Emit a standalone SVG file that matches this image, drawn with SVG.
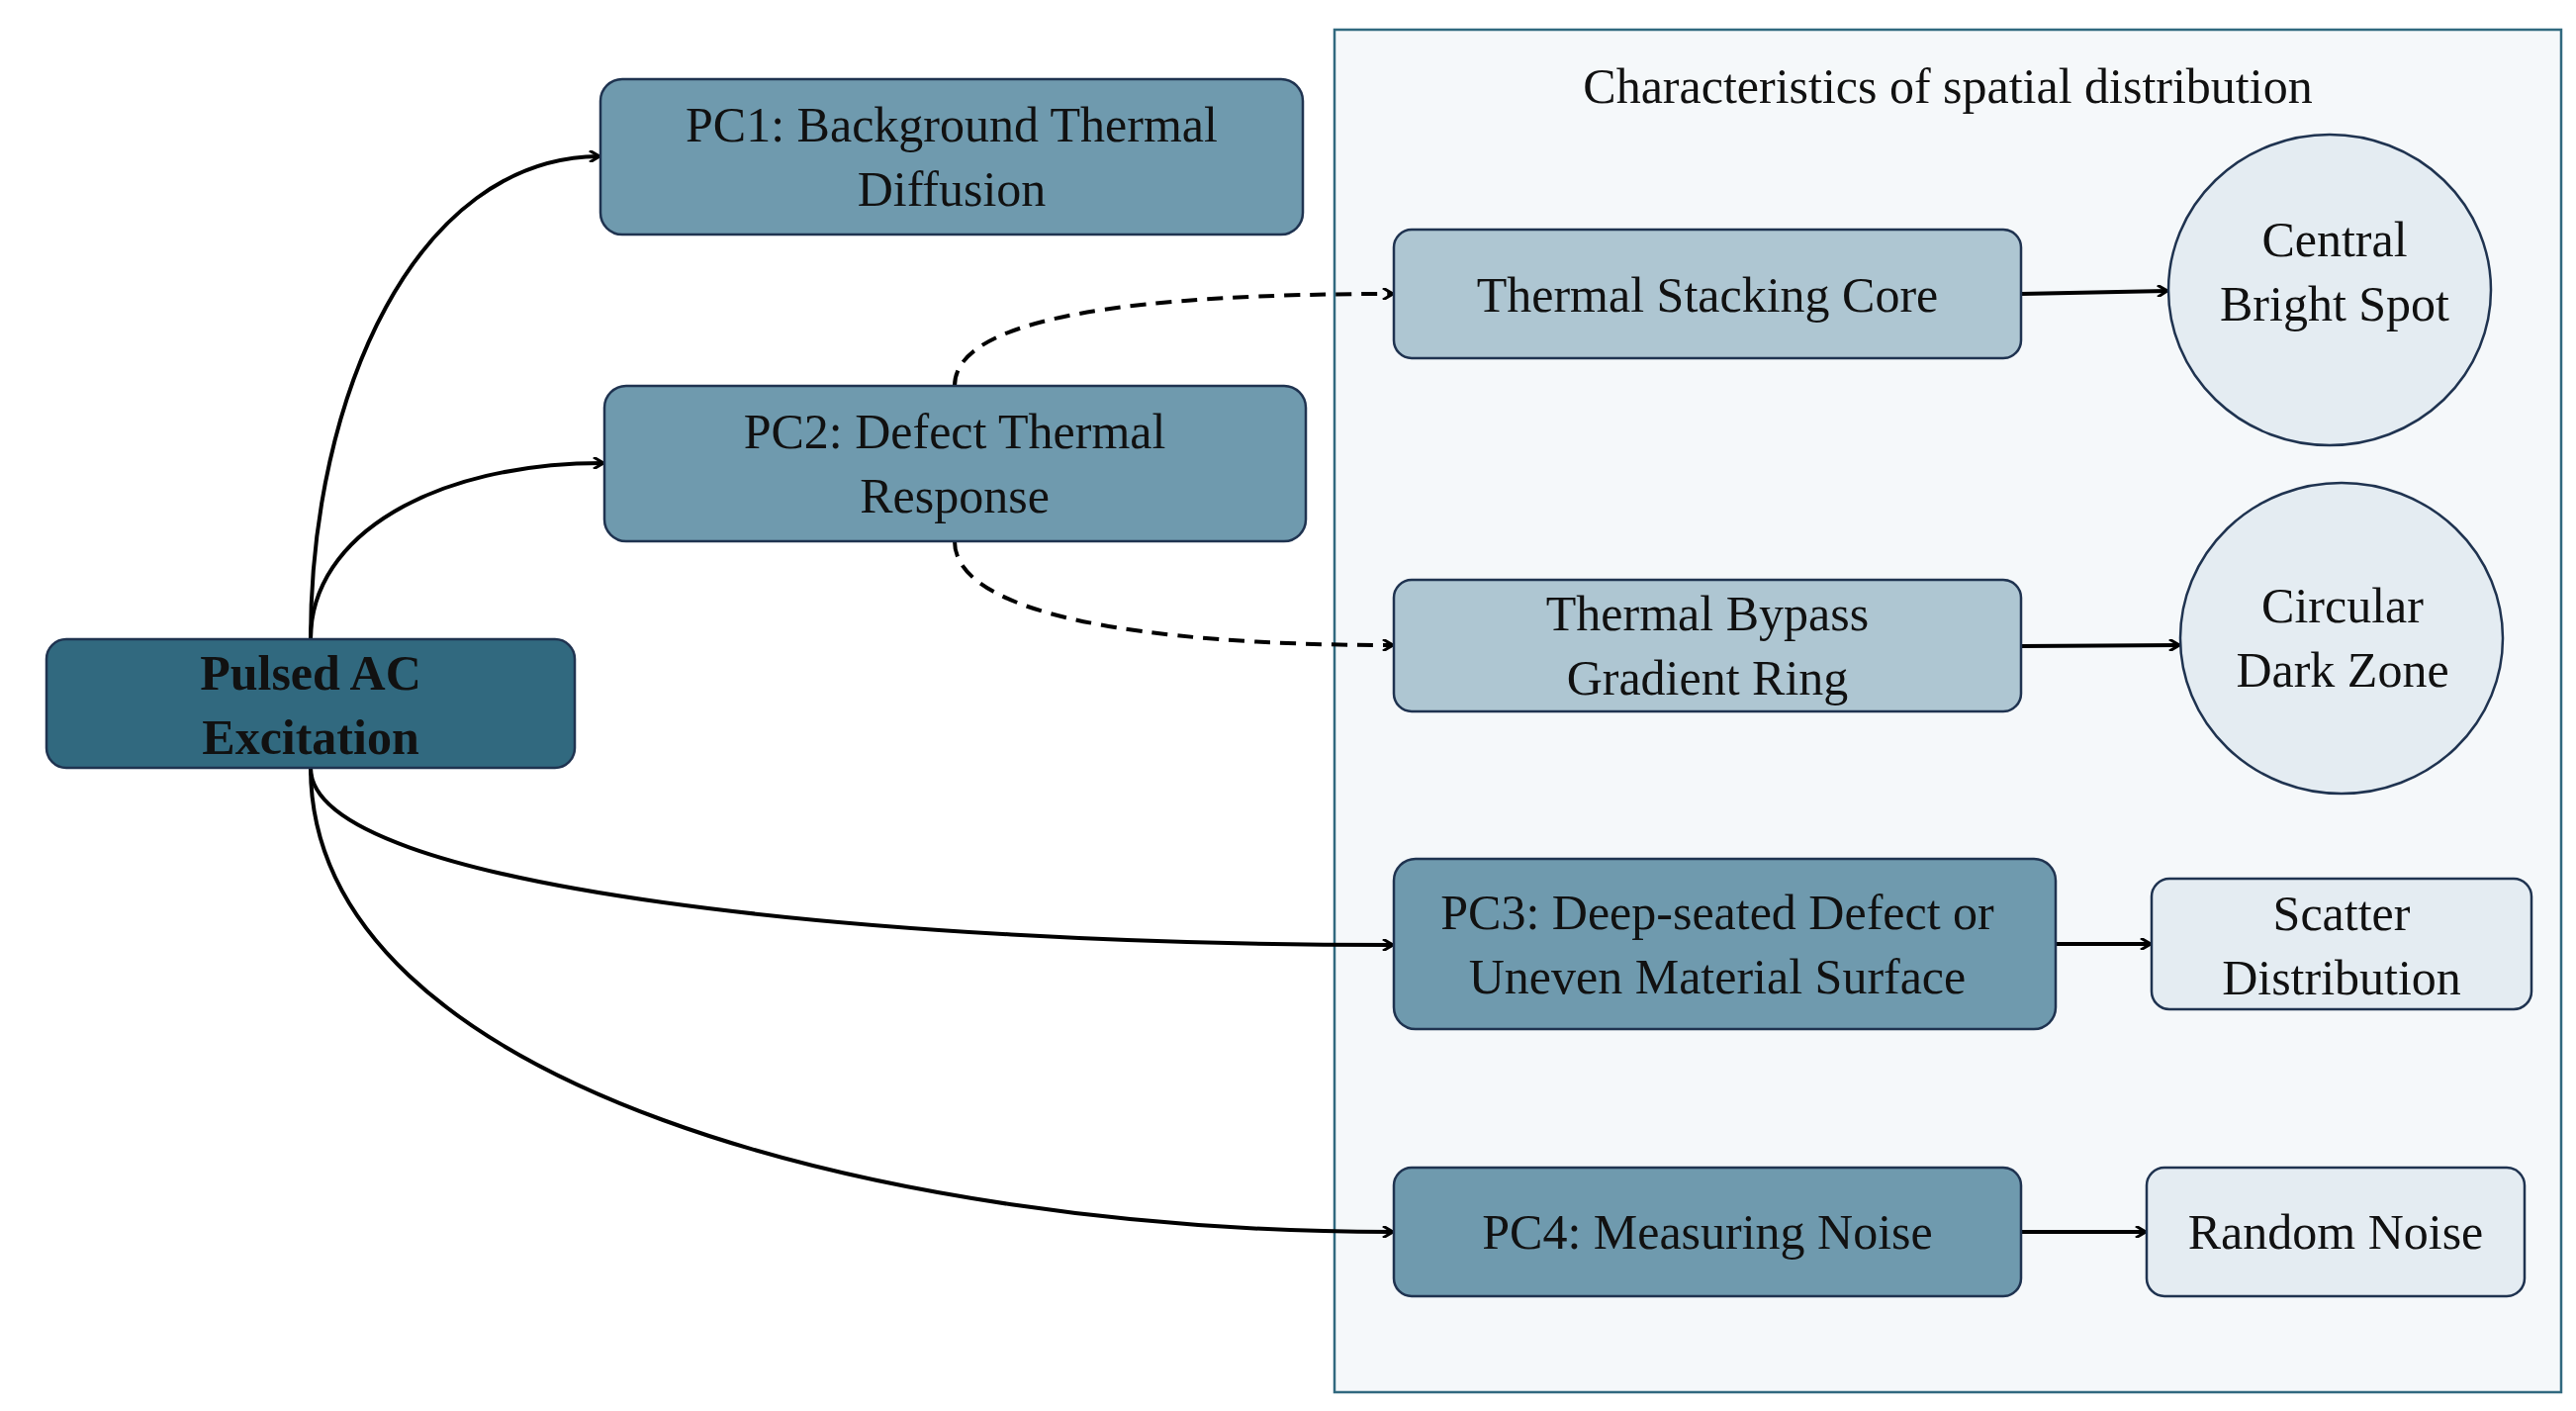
<svg xmlns="http://www.w3.org/2000/svg" width="2604" height="1426" viewBox="0 0 2604 1426">
<style>
text{font-family:"Liberation Serif","Times New Roman",serif;font-size:50px;fill:#111;text-anchor:middle}
.b{stroke:#1f3350;stroke-width:2.5}
.dark{fill:#31697f}.mid{fill:#6f9aae}.lt{fill:#aec6d2}.xl{fill:#e4ecf2}
.c{fill:none;stroke:#000;stroke-width:4;marker-end:url(#a)}
.d{stroke-dasharray:16 10}
</style>
<defs><marker id="a" markerWidth="12" markerHeight="12" refX="10" refY="6" orient="auto" markerUnits="userSpaceOnUse"><path d="M1,0 L11,6 L1,12" fill="none" stroke="#000" stroke-width="3"/></marker></defs>
<rect width="2604" height="1426" fill="#fff"/>
<g id="container"><rect x="1349" y="30" width="1240" height="1377" fill="#f5f8fa" stroke="#31697f" stroke-width="2.5"/><text x="1969" y="104" font-size="54">Characteristics of spatial distribution</text></g>
<g id="connectors">
<path class="c" d="M314,646 C314,400 420,160 605,158"/>
<path class="c" d="M314,646 C314,540 440,468 609,468"/>
<path class="c" d="M314,776 C314,900 900,955 1407,955"/>
<path class="c" d="M314,776 C314,1100 900,1245 1407,1245"/>
<path class="c d" d="M965,390 C965,320 1150,297 1407,297"/>
<path class="c d" d="M965,547 C965,620 1150,652 1407,652"/>
<path class="c" d="M2043,297 L2190,294"/>
<path class="c" d="M2043,653 L2202,652"/>
<path class="c" d="M2078,954 L2173,954"/>
<path class="c" d="M2043,1245 L2168,1245"/>
</g>
<g id="pulsed"><rect class="b dark" x="47" y="646" width="534" height="130" rx="20"/><text x="314" y="697" font-weight="bold">Pulsed AC</text><text x="314" y="762" font-weight="bold">Excitation</text></g>
<g id="pc1"><rect class="b mid" x="607" y="80" width="710" height="157" rx="22"/><text x="962" y="143">PC1: Background Thermal</text><text x="962" y="208">Diffusion</text></g>
<g id="pc2"><rect class="b mid" x="611" y="390" width="709" height="157" rx="22"/><text x="965" y="453">PC2: Defect Thermal</text><text x="965" y="518">Response</text></g>
<g id="tsc"><rect class="b lt" x="1409" y="232" width="634" height="130" rx="18"/><text x="1726" y="315">Thermal Stacking Core</text></g>
<g id="cbs"><ellipse class="b xl" cx="2355" cy="293" rx="163" ry="157"/><text x="2360" y="259">Central</text><text x="2360" y="324">Bright Spot</text></g>
<g id="tbg"><rect class="b lt" x="1409" y="586" width="634" height="133" rx="18"/><text x="1726" y="637">Thermal Bypass</text><text x="1726" y="702">Gradient Ring</text></g>
<g id="cdz"><ellipse class="b xl" cx="2367" cy="645" rx="163" ry="157"/><text x="2368" y="629">Circular</text><text x="2368" y="694">Dark Zone</text></g>
<g id="pc3"><rect class="b mid" x="1409" y="868" width="669" height="172" rx="22"/><text x="1736" y="939">PC3: Deep-seated Defect or</text><text x="1736" y="1004">Uneven Material Surface</text></g>
<g id="scatter"><rect class="b xl" x="2175" y="888" width="384" height="132" rx="18"/><text x="2367" y="940">Scatter</text><text x="2367" y="1005">Distribution</text></g>
<g id="pc4"><rect class="b mid" x="1409" y="1180" width="634" height="130" rx="18"/><text x="1726" y="1262">PC4: Measuring Noise</text></g>
<g id="noise"><rect class="b xl" x="2170" y="1180" width="382" height="130" rx="18"/><text x="2361" y="1262">Random Noise</text></g>
</svg>
